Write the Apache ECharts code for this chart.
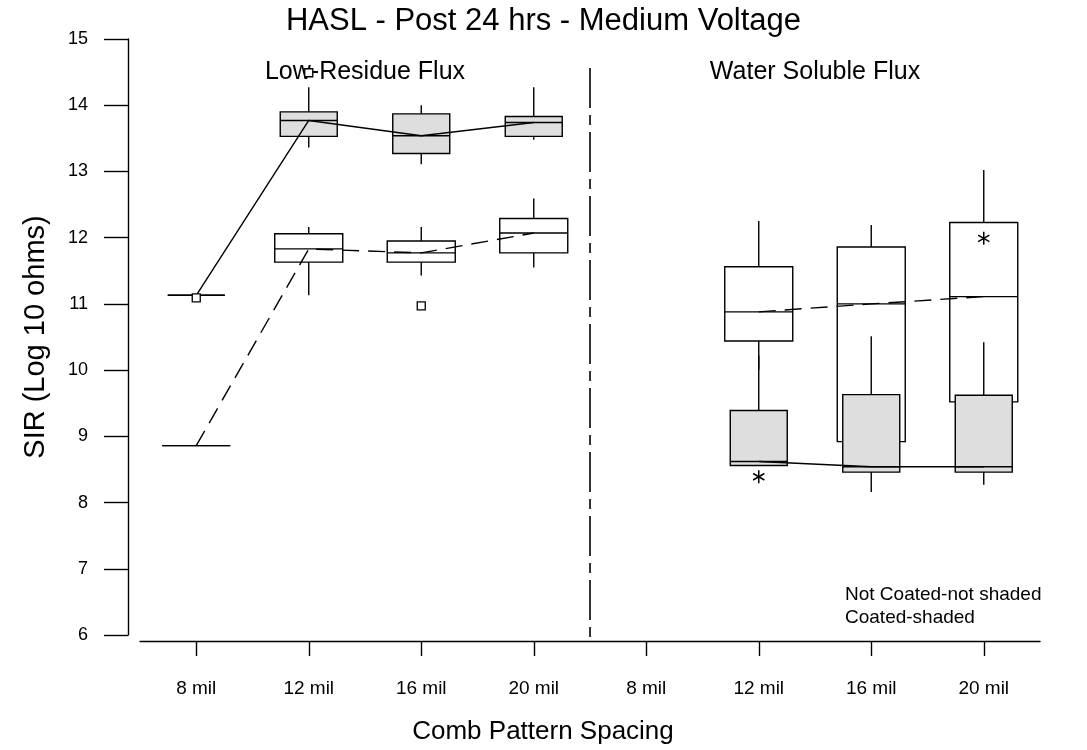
<!DOCTYPE html>
<html>
<head>
<meta charset="utf-8">
<title>HASL - Post 24 hrs - Medium Voltage</title>
<script src="https://cdn.jsdelivr.net/npm/echarts@6/dist/echarts.min.js"></script>
<style>
  html, body { margin: 0; padding: 0; background: #fff; }
  #chart { width: 1087px; height: 750px; }
</style>
</head>
<body>
<div id="chart"></div>
<script>
// Comb pattern spacings tested for each flux type
const spacings = ['8 mil', '12 mil', '16 mil', '20 mil'];
const fluxes = ['Low-Residue Flux', 'Water Soluble Flux'];

// Five-number summaries per spacing: [min, Q1, median, Q3, max] of SIR (log10 ohms)
const lowResidueCoated = [
  [11.13, 11.13, 11.13, 11.13, 11.13],
  [13.36, 13.53, 13.77, 13.90, 14.27],
  [13.11, 13.27, 13.54, 13.87, 14.00],
  [13.48, 13.53, 13.74, 13.83, 14.27]
];
const lowResidueNotCoated = [
  [8.86, 8.86, 8.86, 8.86, 8.86],
  [11.13, 11.63, 11.83, 12.06, 12.16],
  [11.43, 11.63, 11.77, 11.95, 12.16],
  [11.55, 11.77, 12.07, 12.29, 12.59]
];
const waterSolubleCoated = [
  null,
  [8.56, 8.56, 8.62, 9.39, 10.22],
  [8.16, 8.46, 8.54, 9.63, 10.51],
  [8.27, 8.46, 8.54, 9.62, 10.42]
];
const waterSolubleNotCoated = [
  null,
  [10.00, 10.44, 10.88, 11.56, 12.25],
  [8.60, 8.92, 11.00, 11.86, 12.19],
  [9.00, 9.52, 11.11, 12.23, 13.02]
];

// Outlying observations: [spacing index, value]
const lowResidueCoatedOutliers = [[0, 11.09], [1, 14.49]];
const lowResidueNotCoatedOutliers = [[2, 10.97]];
const waterSolubleCoatedOutliers = [[1, 8.39]];
const waterSolubleNotCoatedOutliers = [[3, 11.99]];

// Value axis ticks
const yMin = 6, yMax = 15, yStep = 1;

const FONT = '"Liberation Sans", Arial, Helvetica, sans-serif';
const INK = '#000';
const SHADE = '#dedede';

const categories = [];
fluxes.forEach(f => spacings.forEach(s => categories.push(f + '|' + s)));

// Flatten per-panel summaries into rows [category index, min, Q1, median, Q3, max]
function boxRows(panels) {
  const rows = [];
  panels.forEach((panel, p) => panel.forEach((v, i) => {
    if (v) rows.push([p * spacings.length + i].concat(v));
  }));
  return rows;
}
function medianLine(panels) {
  const out = [];
  panels.forEach(panel => panel.forEach(v => out.push(v ? v[2] : null)));
  return out;
}
function pointRows(panels) {
  const rows = [];
  panels.forEach((panel, p) => panel.forEach(pt => rows.push([p * spacings.length + pt[0], pt[1]])));
  return rows;
}

const coatedPanels = [lowResidueCoated, waterSolubleCoated];
const notCoatedPanels = [lowResidueNotCoated, waterSolubleNotCoated];

function boxRenderer(halfWidth, fill) {
  return function (params, api) {
    const x = api.value(0);
    const p = [1, 2, 3, 4, 5].map(d => api.coord([x, api.value(d)]));
    const cx = p[0][0];
    const st = { stroke: INK, lineWidth: 1.4, fill: null };
    return {
      type: 'group',
      children: [
        { type: 'line', shape: { x1: cx, y1: p[3][1], x2: cx, y2: p[4][1] }, style: st },
        { type: 'line', shape: { x1: cx, y1: p[0][1], x2: cx, y2: p[1][1] }, style: st },
        { type: 'rect', shape: { x: cx - halfWidth, y: p[3][1], width: halfWidth * 2, height: p[1][1] - p[3][1] },
          style: { fill: fill, stroke: INK, lineWidth: 1.4 } },
        { type: 'line', shape: { x1: cx - halfWidth, y1: p[2][1], x2: cx + halfWidth, y2: p[2][1] }, style: st }
      ]
    };
  };
}

function squareRenderer(params, api) {
  const c = api.coord([api.value(0), api.value(1)]);
  const h = 4;
  return { type: 'rect', shape: { x: c[0] - h, y: c[1] - h, width: 2 * h, height: 2 * h },
           style: { fill: '#fff', stroke: INK, lineWidth: 1.3 } };
}
function starRenderer(params, api) {
  const c = api.coord([api.value(0), api.value(1)]);
  const r = 6.5, a = r * Math.cos(Math.PI / 6), b = r * Math.sin(Math.PI / 6);
  const st = { stroke: INK, lineWidth: 1.5 };
  return {
    type: 'group',
    children: [
      { type: 'line', shape: { x1: c[0], y1: c[1] - r, x2: c[0], y2: c[1] + r }, style: st },
      { type: 'line', shape: { x1: c[0] - a, y1: c[1] - b, x2: c[0] + a, y2: c[1] + b }, style: st },
      { type: 'line', shape: { x1: c[0] - a, y1: c[1] + b, x2: c[0] + a, y2: c[1] - b }, style: st }
    ]
  };
}

const chart = echarts.init(document.getElementById('chart'), null, { renderer: 'canvas' });

chart.setOption({
  backgroundColor: '#fff',
  animation: false,
  title: {
    text: 'HASL - Post 24 hrs - Medium Voltage',
    left: 'center',
    top: 1,
    textStyle: { fontFamily: FONT, fontSize: 31, fontWeight: 'normal', color: INK }
  },
  grid: { left: 140, right: 47, top: 39, bottom: 113 },
  xAxis: {
    type: 'category',
    data: categories,
    offset: 6,
    boundaryGap: true,
    name: 'Comb Pattern Spacing',
    nameLocation: 'middle',
    nameGap: 78,
    // axis title sits centred on the page rather than on the plot area
    nameTextStyle: { fontFamily: FONT, fontSize: 26, color: INK, padding: [0, 94, 0, 0] },
    axisLine: { show: true, lineStyle: { color: INK, width: 1.4 } },
    axisTick: { show: true, alignWithLabel: true, length: 15, lineStyle: { color: INK, width: 1.4 } },
    axisLabel: {
      margin: 38, fontFamily: FONT, fontSize: 19, color: INK,
      formatter: v => v.split('|')[1]
    },
    splitLine: { show: false }
  },
  yAxis: {
    type: 'value',
    min: yMin, max: yMax, interval: yStep,
    offset: 12,
    name: 'SIR (Log 10 ohms)',
    nameLocation: 'middle',
    nameGap: 78,
    nameTextStyle: { fontFamily: FONT, fontSize: 29, color: INK },
    axisLine: { show: true, lineStyle: { color: INK, width: 1.4 } },
    axisTick: { show: true, length: 24, lineStyle: { color: INK, width: 1.4 } },
    axisLabel: { margin: 40, fontFamily: FONT, fontSize: 18, color: INK },
    splitLine: { show: false }
  },
  series: [
    {
      type: 'custom', name: 'Not Coated', z: 2,
      renderItem: boxRenderer(34, '#fff'),
      encode: { x: 0, y: [1, 2, 3, 4, 5] },
      data: boxRows(notCoatedPanels), clip: false
    },
    {
      type: 'custom', name: 'Coated', z: 3,
      renderItem: boxRenderer(28.5, SHADE),
      encode: { x: 0, y: [1, 2, 3, 4, 5] },
      data: boxRows(coatedPanels), clip: false
    },
    {
      type: 'line', name: 'Not Coated median', z: 4,
      data: medianLine(notCoatedPanels),
      symbol: 'none', connectNulls: false,
      lineStyle: { color: INK, width: 1.4, type: [17, 9] }
    },
    {
      type: 'line', name: 'Coated median', z: 4,
      data: medianLine(coatedPanels),
      symbol: 'none', connectNulls: false,
      lineStyle: { color: INK, width: 1.4, type: 'solid' }
    },
    {
      type: 'custom', name: 'Outliers (square)', z: 5,
      renderItem: squareRenderer,
      encode: { x: 0, y: 1 },
      data: pointRows([lowResidueCoatedOutliers, []]).concat(pointRows([lowResidueNotCoatedOutliers, []])),
      clip: false
    },
    {
      type: 'custom', name: 'Outliers (star)', z: 5,
      renderItem: starRenderer,
      encode: { x: 0, y: 1 },
      data: pointRows([[], waterSolubleCoatedOutliers]).concat(pointRows([[], waterSolubleNotCoatedOutliers])),
      clip: false
    }
  ]
});

// Panel divider, panel headings and shading key
const n = spacings.length;
const px = i => chart.convertToPixel({ xAxisIndex: 0 }, i);
const py = v => chart.convertToPixel({ yAxisIndex: 0 }, v);
const dividerX = (px(n - 1) + px(n)) / 2;
const leftCenter = (px(0) + px(n - 1)) / 2;
const rightCenter = (px(n) + px(2 * n - 1)) / 2;

chart.setOption({
  graphic: [
    {
      type: 'line', z: 10,
      shape: { x1: dividerX, y1: py(yMax) + 29, x2: dividerX, y2: py(yMin) + 4 },
      style: { stroke: INK, lineWidth: 1.6, lineDash: [40, 7, 10, 7] }
    },
    {
      type: 'text', z: 1, x: leftCenter, y: 72,
      style: { text: fluxes[0], fontFamily: FONT, fontSize: 25, fill: INK, align: 'center', verticalAlign: 'middle' }
    },
    {
      type: 'text', z: 1, x: rightCenter, y: 72,
      style: { text: fluxes[1], fontFamily: FONT, fontSize: 25, fill: INK, align: 'center', verticalAlign: 'middle' }
    },
    {
      type: 'text', z: 10, x: 845, y: 595,
      style: { text: 'Not Coated-not shaded', fontFamily: FONT, fontSize: 19, fill: INK, align: 'left', verticalAlign: 'middle' }
    },
    {
      type: 'text', z: 10, x: 845, y: 618,
      style: { text: 'Coated-shaded', fontFamily: FONT, fontSize: 19, fill: INK, align: 'left', verticalAlign: 'middle' }
    }
  ]
});
</script>
</body>
</html>
